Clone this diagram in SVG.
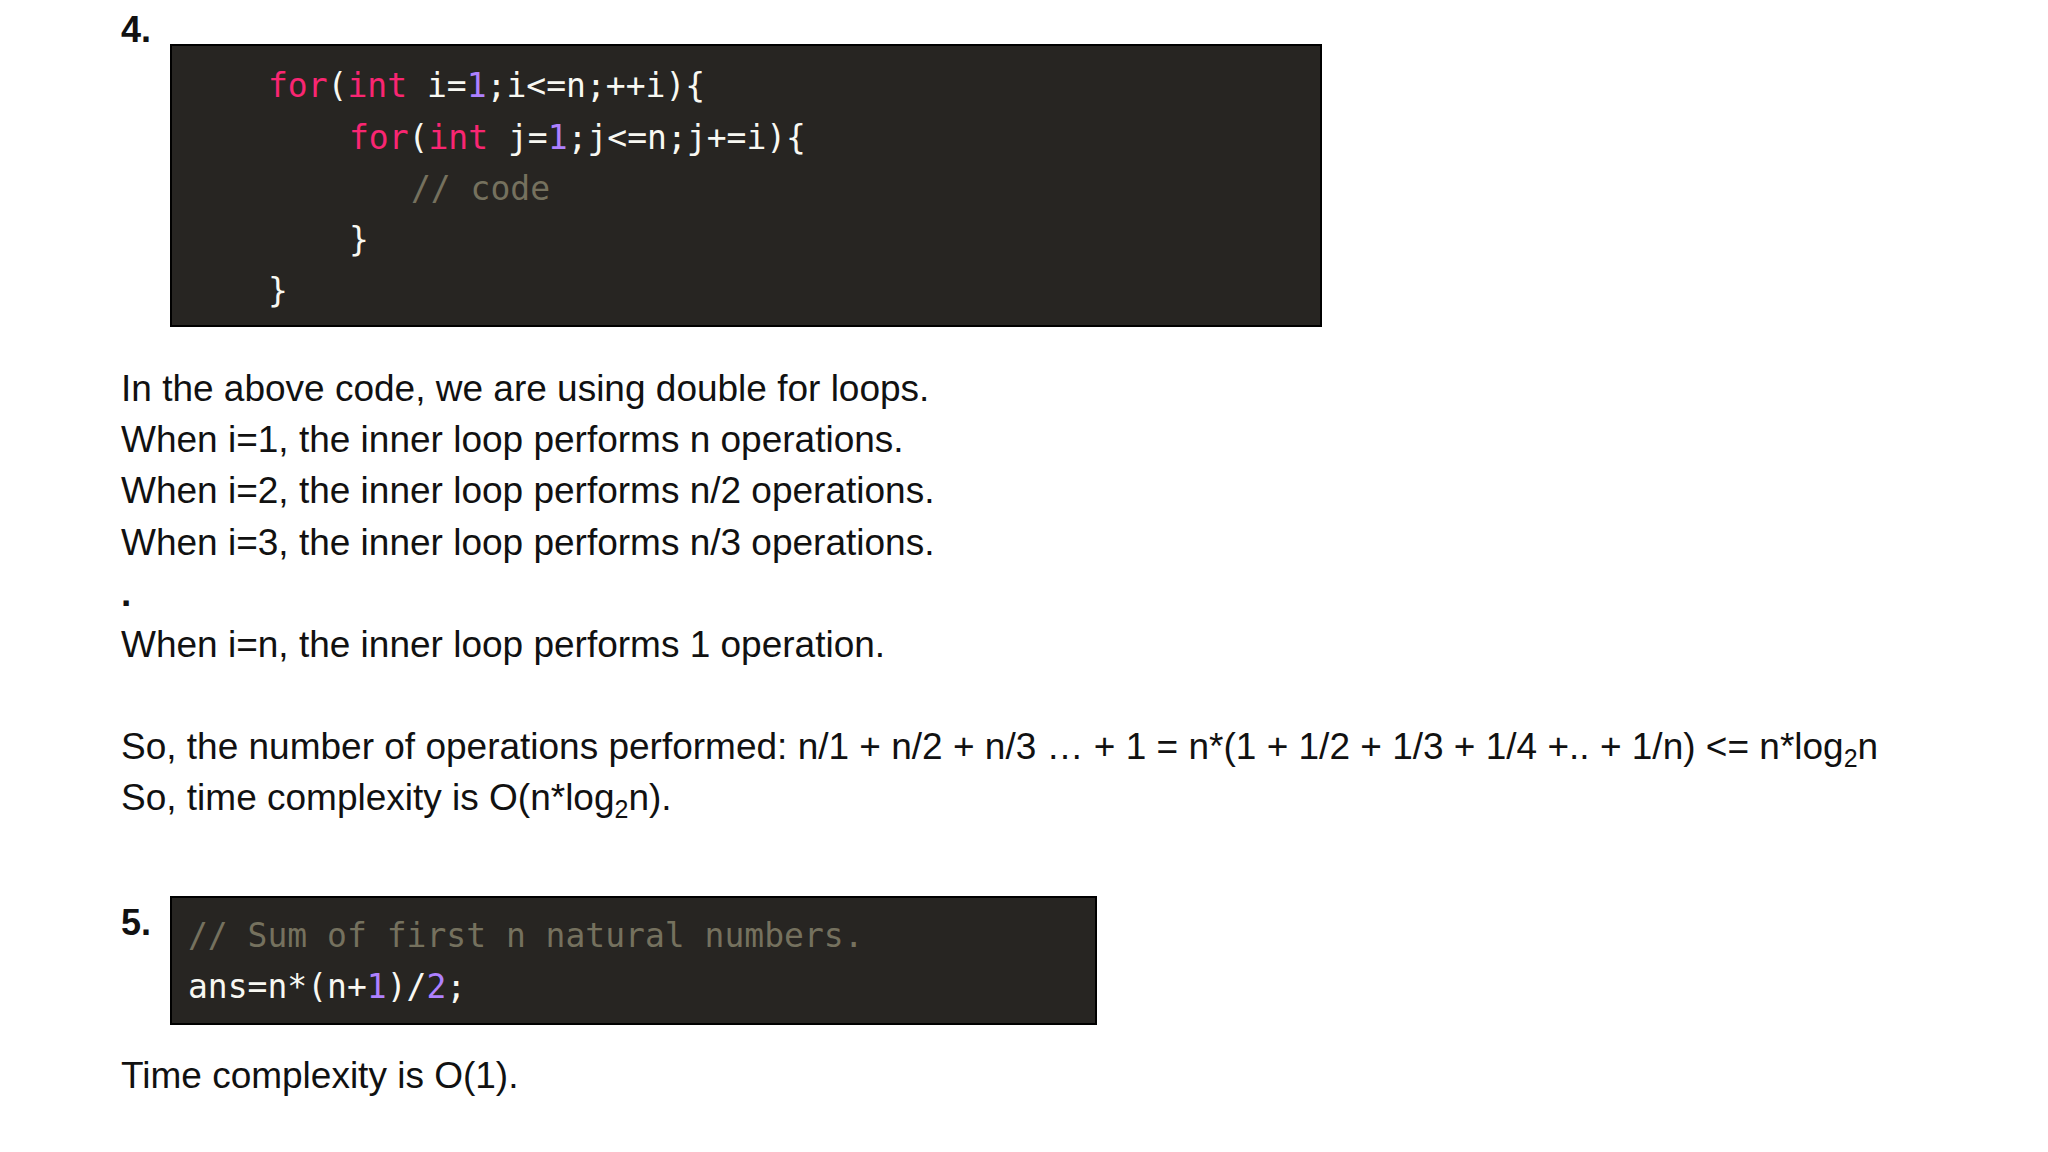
<svg xmlns="http://www.w3.org/2000/svg" width="2048" height="1152" viewBox="0 0 2048 1152">
<style>
.t{font-family:"Liberation Sans",Arial,sans-serif;font-size:37px;fill:#111}
.h{font-family:"Liberation Sans",Arial,sans-serif;font-size:36px;font-weight:bold;fill:#111}
.c{font-family:"DejaVu Sans Mono","Liberation Mono",monospace;font-size:33px;fill:#f8f8f2}
.k{fill:#f92672}.n{fill:#ae81ff}.cm{fill:#75715e}
.box{fill:#272522;stroke:#000;stroke-width:2}
</style>
<rect width="2048" height="1152" fill="#fff"/>
<g id="q4">
<text class="h" x="121" y="42">4.</text>
<rect class="box" x="171" y="45" width="1150" height="281"/>
<text class="c" x="268" y="97"><tspan class="k">for</tspan>(<tspan class="k">int</tspan> i=<tspan class="n">1</tspan>;i&lt;=n;++i){</text>
<text class="c" x="349" y="149"><tspan class="k">for</tspan>(<tspan class="k">int</tspan> j=<tspan class="n">1</tspan>;j&lt;=n;j+=i){</text>
<text class="c cm" x="411" y="200">// code</text>
<text class="c" x="349" y="251">}</text>
<text class="c" x="268" y="302">}</text>
</g>
<g id="explain">
<text class="t" x="121" y="401">In the above code, we are using double for loops.</text>
<text class="t" x="121" y="452">When i=1, the inner loop performs n operations.</text>
<text class="t" x="121" y="503">When i=2, the inner loop performs n/2 operations.</text>
<text class="t" x="121" y="555">When i=3, the inner loop performs n/3 operations.</text>
<text class="t" x="121" y="606" font-weight="bold">.</text>
<text class="t" x="121" y="657">When i=n, the inner loop performs 1 operation.</text>
<text class="t" x="121" y="759">So, the number of operations performed: n/1 + n/2 + n/3 … + 1 = n*(1 + 1/2 + 1/3 + 1/4 +.. + 1/n) &lt;= n*log<tspan font-size="25" dy="8">2</tspan><tspan dy="-8">n</tspan></text>
<text class="t" x="121" y="810">So, time complexity is O(n*log<tspan font-size="25" dy="8">2</tspan><tspan dy="-8">n).</tspan></text>
</g>
<g id="q5">
<text class="h" x="121" y="935">5.</text>
<rect class="box" x="171" y="897" width="925" height="127"/>
<text class="c cm" x="188" y="947">// Sum of first n natural numbers.</text>
<text class="c" x="188" y="998">ans=n*(n+<tspan class="n">1</tspan>)/<tspan class="n">2</tspan>;</text>
<text class="t" x="121" y="1088">Time complexity is O(1).</text>
</g>
</svg>
